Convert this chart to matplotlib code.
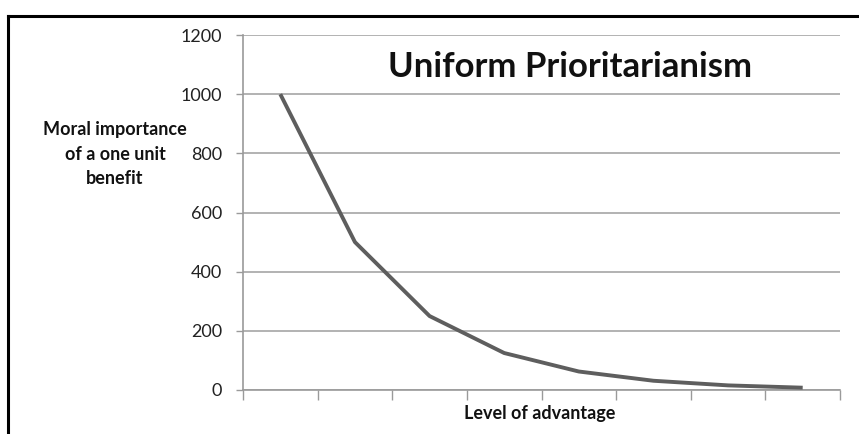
"""Uniform prioritarianism curve, Excel-style line chart."""

import matplotlib.pyplot as plt
from matplotlib.lines import Line2D

# data
levels = list(range(1, 9))
importance = [1000, 500, 250, 125, 62.5, 31.25, 15.6, 7.8]
y_ticks = [0, 200, 400, 600, 800, 1000, 1200]

plt.rcParams["font.family"] = ["Lato", "DejaVu Sans"]

W, H = 859, 434
fig = plt.figure(figsize=(W / 100, H / 100), dpi=100)
ax = fig.add_axes([243 / W, 1 - 390 / H, (840 - 243) / W, (390 - 35) / H])

ax.plot(levels, importance, color="#5e5e5e", linewidth=2.8, solid_capstyle="butt", zorder=3)

ax.set_xlim(0.5, 8.5)
ax.set_ylim(0, 1200)
ax.set_yticks(y_ticks)
ax.set_xticks([x + 0.5 for x in range(0, 9)])
ax.set_xticklabels([])
ax.tick_params(axis="x", direction="out", length=7, color="#9a9a9a", width=1)
ax.tick_params(axis="y", direction="out", length=5, color="#9a9a9a", width=1,
               labelsize=13, labelcolor="#222222", pad=10)
ax.grid(axis="y", color="#a6a6a6", linewidth=1.2)
ax.set_axisbelow(True)

for side in ["top", "right"]:
    ax.spines[side].set_visible(False)
for side in ["left", "bottom"]:
    ax.spines[side].set_color("#9a9a9a")
    ax.spines[side].set_linewidth(1.2)

ax.text(0.548, 0.91, "Uniform Prioritarianism", transform=ax.transAxes, ha="center",
        va="center", fontsize=25, fontweight="bold", color="#111111")

fig.text(115 / W, 1 - 154 / H, "Moral importance\nof a one unit\nbenefit", ha="center",
         va="center", fontsize=13, fontweight="bold", color="#111111", linespacing=1.55)
fig.text(540 / W, 1 - 413 / H, "Level of advantage", ha="center", va="center",
         fontsize=13, fontweight="bold", color="#111111")

# frame around the slide region
fig.add_artist(Line2D([8 / W, 1], [1 - 16 / H, 1 - 16 / H], color="black", linewidth=2.2))
fig.add_artist(Line2D([8 / W, 8 / W], [0, 1 - 16 / H], color="black", linewidth=2.2))

fig.savefig("out.png", dpi=100)
